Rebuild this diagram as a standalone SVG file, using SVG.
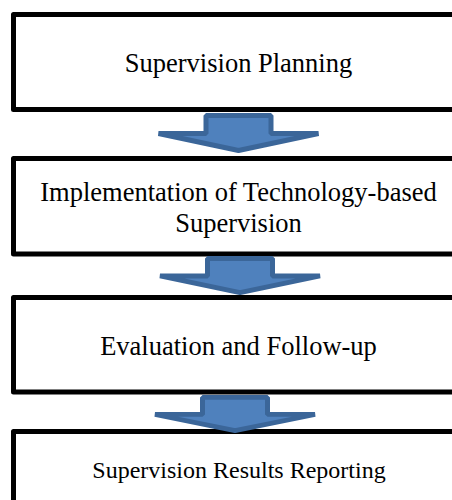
<svg xmlns="http://www.w3.org/2000/svg" width="452" height="500" viewBox="0 0 452 500">
  <style>
    .box { fill: #ffffff; stroke: #000000; stroke-width: 5; stroke-linejoin: round; }
    .label { font-family: "Liberation Serif", "Times New Roman", serif; font-size: 26.5px; fill: #000000; text-anchor: middle; }
    .label.small { font-size: 24px; }
    .arrow { fill: #4f81bd; stroke: #3b6699; stroke-width: 5; stroke-linejoin: bevel; }
  </style>
  <defs>
    <!-- block down-arrow, origin at the top centre of the shaft -->
    <path id="downArrow" d="M-32.5,2.5 H32.5 V20.5 H80 L0,37.5 L-80,20.5 H-32.5 Z"/>
  </defs>
  <rect width="452" height="500" fill="#ffffff"/>

  <g id="node-planning">
    <rect class="box" x="13.5" y="14.5" width="450" height="95"/>
    <text class="label" x="238.5" y="72">Supervision Planning</text>
  </g>

  <g id="node-implementation">
    <rect class="box" x="13.5" y="158.5" width="450" height="95.5"/>
    <text class="label" x="238.5" y="200.5">Implementation of Technology-based</text>
    <text class="label" x="238.5" y="231.5">Supervision</text>
  </g>

  <g id="node-evaluation">
    <rect class="box" x="13.5" y="297.5" width="450" height="94.5"/>
    <text class="label" x="238.5" y="355">Evaluation and Follow-up</text>
  </g>

  <g id="node-reporting">
    <rect class="box" x="13.5" y="431.5" width="450" height="100"/>
    <text class="label small" x="239" y="478">Supervision Results Reporting</text>
  </g>

  <g id="connectors">
    <use href="#downArrow" class="arrow" transform="translate(238.5,113)"/>
    <use href="#downArrow" class="arrow" transform="translate(240,256) scale(1,0.975)"/>
    <use href="#downArrow" class="arrow" transform="translate(235,395) scale(1,0.95)"/>
  </g>
</svg>
